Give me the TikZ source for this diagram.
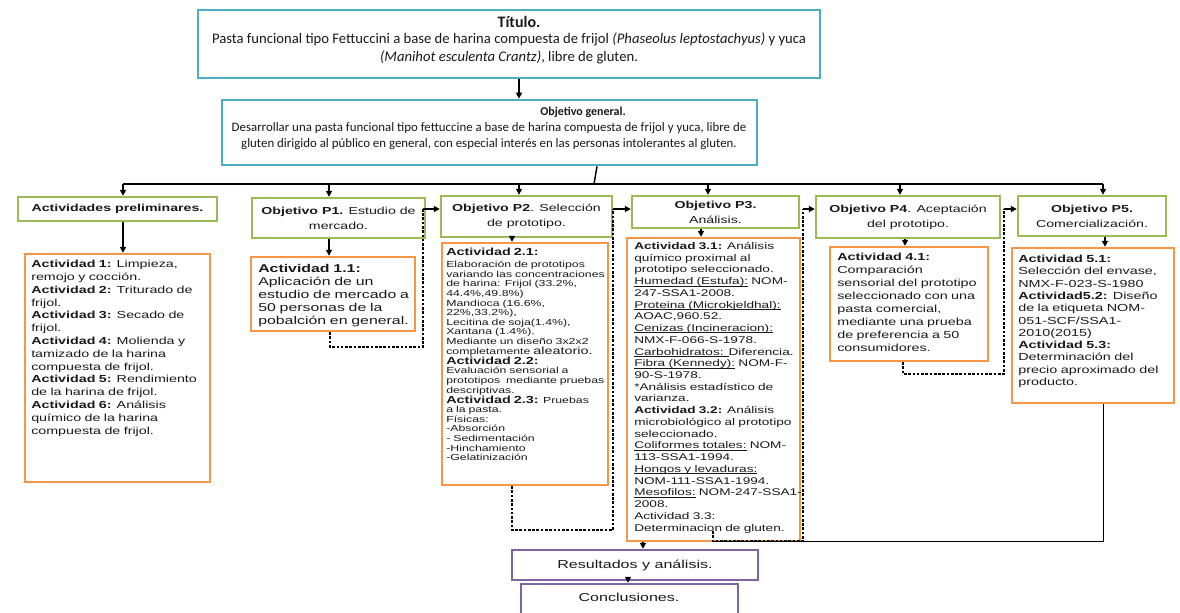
\documentclass[tikz,border=0pt]{standalone}
\usepackage{fontspec}
\setmainfont{Carlito}
\newfontfamily\bxf{Liberation Sans}[FakeStretch=1.4]
\usetikzlibrary{arrows.meta,fit,calc}
\definecolor{cyanb}{HTML}{4BACC6}
\definecolor{greenb}{HTML}{9BBB59}
\definecolor{orangeb}{HTML}{F79646}
\definecolor{purpleb}{HTML}{8064A2}
\newlength\px \setlength\px{0.75pt}
\newcommand\ulx[1]{\leavevmode\setbox0\hbox{#1}\rlap{\rule[-1.1pt]{\wd0}{0.45pt}}\box0\relax}
\begin{document}
\begin{tikzpicture}[x=0.75pt,y=-0.75pt,
  every node/.style={text=black!90},
  box/.style={inner sep=0pt},
  tbox/.style={box, draw=cyanb, line width=2pt},
  gbox/.style={box, draw=greenb, line width=1.8pt, align=center, font=\bxf\fontsize{7.6}{11.2}\selectfont},
  obox/.style={box, draw=orangeb, line width=1.8pt},
  pbox/.style={box, draw=purpleb, line width=1.8pt, font=\bxf\fontsize{8.6}{10}\selectfont},
  otext/.style={anchor=north west, inner sep=0pt, text width=250pt, align=left},
  arr/.style={line width=1.1pt, -{Triangle[length=4.5pt,width=4.5pt]}},
  dline/.style={line width=0.8pt, dash pattern=on 2pt off 1.2pt},
  thin line/.style={line width=0.6pt},
]
\useasboundingbox (0,0) rectangle (1180,612);

% title
\node[tbox, fit={(198,10) (820,78)}] (title) {};
\node[inner sep=0pt, font=\fontsize{12}{13.1}\selectfont\bfseries] (titleh) at (519,22) {Título.};
\node[inner sep=0pt, align=center, font=\fontsize{11}{13.1}\selectfont] (titlet) at (509,48.5)
 {Pasta funcional tipo Fettuccini a base de harina compuesta de frijol \textit{(Phaseolus leptostachyus)} y yuca\\ \textit{(Manihot esculenta Crantz)}, libre de gluten.};

% objetivo general
\node[tbox, fit={(222,100) (757,165)}] (gen) {};
\node[inner sep=0pt, font=\fontsize{9}{12}\selectfont\bfseries] (genh) at (583,112) {Objetivo general.};
\node[inner sep=0pt, align=center, font=\fontsize{9.65}{12}\selectfont] (gent) at (489,136)
 {Desarrollar una pasta funcional tipo fettuccine a base de harina compuesta de frijol y yuca, libre de\\ gluten dirigido al público en general, con especial interés en las personas intolerantes al gluten.};

% green boxes
\node[gbox, minimum width=199\px, minimum height=24\px] (g0) at (117.5,209) {\textbf{Actividades preliminares.}};
\node[gbox, minimum width=173\px, minimum height=40\px] (g1) at (338.5,218) {\textbf{Objetivo P1.} Estudio de\\ mercado.};
\node[gbox, minimum width=171\px, minimum height=41\px] (g2) at (526.5,216.5) {\textbf{Objetivo P2}. Selección\\ de prototipo.};
\node[gbox, minimum width=167\px, minimum height=32\px] (g3) at (715.5,212) {\textbf{Objetivo P3.}\\ Análisis.};
\node[gbox, minimum width=184\px, minimum height=42\px] (g4) at (908,217) {\textbf{Objetivo P4}. Aceptación\\ del prototipo.};
\node[gbox, minimum width=148\px, minimum height=40\px] (g5) at (1092,216) {\textbf{Objetivo P5.}\\ Comercialización.};

% orange boxes
\node[obox, fit={(25,254) (210,482)}] (o0) {};
\node[otext, font=\bxf\fontsize{7.65}{9.6}\selectfont] (o0t) at (31,260)
 {\textbf{Actividad 1:} Limpieza,\\ remojo y cocción.\\ \textbf{Actividad 2:} Triturado de\\ frijol.\\ \textbf{Actividad 3:} Secado de\\ frijol.\\ \textbf{Actividad 4:} Molienda y\\ tamizado de la harina\\ compuesta de frijol.\\ \textbf{Actividad 5:} Rendimiento\\ de la harina de frijol.\\ \textbf{Actividad 6:} Análisis\\ químico de la harina\\ compuesta de frijol.};

\node[obox, fit={(251,257) (415,331)}] (o1) {};
\node[otext, font=\bxf\fontsize{8.5}{9.75}\selectfont] (o1t) at (258,264)
 {\textbf{Actividad 1.1:}\\ Aplicación de un\\ estudio de mercado a\\ 50 personas de la\\ pobalción en general.};

\node[obox, fit={(442,243) (608,485)}] (o2) {};
\node[otext, font=\bxf\fontsize{6.6}{7.2}\selectfont] (o2t) at (446,248)
 {{\fontsize{7.7}{9}\selectfont\textbf{Actividad 2.1:}\par}\vspace{1.8pt}
  Elaboración de prototipos\\ variando las concentraciones\\ de harina: Frijol (33.2\%,\\ 44.4\%,49.8\%)\\ Mandioca (16.6\%,\\ 22\%,33.2\%),\\ Lecitina de soja(1.4\%),\\ Xantana (1.4\%).\\ Mediante un diseño 3x2x2\\ completamente {\fontsize{7.7}{7.2}\selectfont aleatorio.}\par
  {\fontsize{7.7}{7.6}\selectfont\textbf{Actividad 2.2:}\par}
  Evaluación sensorial a\\ prototipos\ \ mediante pruebas\\ descriptivas.\par
  {\fontsize{7.7}{7.6}\selectfont\textbf{Actividad 2.3:} {\fontsize{6.6}{7.2}\selectfont Pruebas}\par}
  a la pasta.\\ Físicas:\\ -Absorción\\ - Sedimentación\\ -Hinchamiento\\ -Gelatinización};

\node[obox, fit={(627,238) (800,541)}] (o3) {};
\node[otext, font=\bxf\fontsize{7.3}{8.8}\selectfont] (o3t) at (634,242)
 {\textbf{Actividad 3.1:} Análisis\\ químico proximal al\\ prototipo seleccionado.\\ \ulx{Humedad (Estufa):} NOM-\\ 247-SSA1-2008.\\ \ulx{Proteina (Microkjeldhal):}\\ AOAC,960.52.\\ \ulx{Cenizas (Incineracion):}\\ NMX-F-066-S-1978.\\ \ulx{Carbohidratos: }Diferencia.\\ \ulx{Fibra (Kennedy):} NOM-F-\\ 90-S-1978.\\ {*}Análisis estadístico de\\ varianza.\\ \textbf{Actividad 3.2:} Análisis\\ microbiológico al prototipo\\ seleccionado.\\ \ulx{Coliformes totales:} NOM-\\ 113-SSA1-1994.\\ \ulx{Hongos y levaduras:}\\ NOM-111-SSA1-1994.\\ \ulx{Mesofilos:} NOM-247-SSA1-\\ 2008.\\ Actividad 3.3:\\ Determinacion de gluten.};

\node[obox, fit={(830,247) (988,361)}] (o4) {};
\node[otext, font=\bxf\fontsize{7.7}{9.75}\selectfont] (o4t) at (837,253)
 {\textbf{Actividad 4.1:}\\ Comparación\\ sensorial del prototipo\\ seleccionado con una\\ pasta comercial,\\ mediante una prueba\\ de preferencia a 50\\ consumidores.};

\node[obox, fit={(1012,248) (1174,403)}] (o5) {};
\node[otext, font=\bxf\fontsize{7.7}{9.2}\selectfont] (o5t) at (1018,255)
 {\textbf{Actividad 5.1:}\\ Selección del envase,\\ NMX-F-023-S-1980\\ \textbf{Actividad5.2:} Diseño\\ de la etiqueta NOM-\\ 051-SCF/SSA1-\\ 2010(2015)\\ \textbf{Actividad 5.3:}\\ Determinación del\\ precio aproximado del\\ producto.};

% purple boxes
\node[pbox, minimum width=246\px, minimum height=30\px] (res) at (635,565) {Resultados y análisis.};
\node[pbox, fit={(521,584) (738,630)}] (con) {};
\node[inner sep=0pt, font=\bxf\fontsize{8.6}{10}\selectfont] (cont) at (629,597) {Conclusiones.};

% connectors
\coordinate (xa) at (519,0);
\draw[arr] (title.south -| xa) -- (gen.north -| xa);
\coordinate (gx) at (597,0);
\coordinate (bx) at (594,184);
\draw[line width=1.1pt] (gen.south -| gx) -- (bx);
\coordinate (bl) at (123,184);
\coordinate (br) at (1103,184);
\draw[line width=1.1pt] (bl) -- (br);
\foreach \n/\x in {g0/123, g1/329, g2/519, g3/708, g4/900, g5/1103}{
  \coordinate (t) at (\x,184);
  \draw[arr] (t) -- (\n.north -| t);
}
\foreach \a/\b/\x in {g0/o0/123, g1/o1/329, g2/o2/512, g3/o3/701, g4/o4/905, g5/o5/1105}{
  \coordinate (t) at (\x,0);
  \draw[arr] (\a.south -| t) -- (\b.north -| t);
}
\coordinate (ya) at (0,209);
% P1 -> P2
\coordinate (d1a) at (330,347);
\coordinate (d1b) at (423,347);
\draw[dline] (o1.south -| d1a) -- (d1a) -- (d1b) -- (d1b |- ya);
\draw[arr] (d1b |- ya) -- (g2.west |- ya);
% P2 -> P3
\coordinate (d2a) at (512,530);
\coordinate (d2b) at (613,530);
\draw[dline] (o2.south -| d2a) -- (d2a) -- (d2b) -- (d2b |- ya);
\draw[arr] (d2b |- ya) -- (g3.west |- ya);
% P3 -> P4
\coordinate (d3s) at (713,531);
\coordinate (d3a) at (713,541);
\coordinate (d3b) at (803,541);
\draw[dline] (d3s) -- (d3a) -- (d3b) -- (d3b |- ya);
\draw[arr] (d3b |- ya) -- (g4.west |- ya);
% P4 -> P5
\coordinate (d4a) at (903,374);
\coordinate (d4b) at (1004,374);
\draw[dline] (o4.south -| d4a) -- (d4a) -- (d4b) -- (d4b |- ya);
\draw[arr] (d4b |- ya) -- (g5.west |- ya);
% P5 -> back
\coordinate (d5a) at (1103,541);
\draw[thin line] (o5.south -| d5a) -- (d5a) -- (d3a);
% results
\coordinate (xr) at (643,0);
\draw[arr] (o3.south -| xr) -- (res.north -| xr);
\coordinate (xc) at (628,0);
\draw[arr] (res.south -| xc) -- (con.north -| xc);
\end{tikzpicture}
\end{document}
